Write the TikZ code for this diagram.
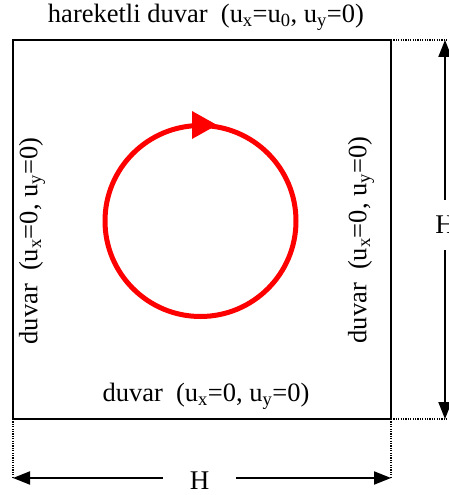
\documentclass[tikz,border=0pt]{standalone}
\usepackage{fontspec}
\setmainfont{Liberation Serif}
\usetikzlibrary{arrows.meta}
\begin{document}
\begin{tikzpicture}[x=1pt,y=-1pt,
  lbl/.style={font=\fontsize{26.5}{30}\selectfont, inner sep=0pt},
  hlbl/.style={font=\fontsize{27}{31}\selectfont, inner sep=0pt},
  wall/.style={line width=2pt},
  dim/.style={line width=2pt, -{Triangle[length=17pt,width=13pt]}},
  guide/.style={line width=1.2pt, dash pattern=on 1.2pt off 1.2pt},
  vortex/.style={draw=red, line width=5pt}]
\useasboundingbox (0,0) rectangle (448,495);
% box corners
\coordinate (tl) at (13,40);
\coordinate (tr) at (391,40);
\coordinate (bl) at (13,419);
\coordinate (br) at (391,419);
\coordinate (trx) at (448,40);
\coordinate (brx) at (448,419);
\coordinate (bly) at (13,478);
\coordinate (bry) at (391,478);
\coordinate (vt) at (445,40);
\coordinate (vb) at (445,419);
% walls
\draw[wall] (tl) rectangle (br);
% guides
\draw[guide] (tr) -- (trx);
\draw[guide] (br) -- (brx);
\draw[guide] (bl) -- (bly);
\draw[guide] (br) -- (bry);
% labels
\node[lbl] (top) at (206,17) {hareketli duvar\ \ (u\textsubscript{x}=u\textsubscript{0}, u\textsubscript{y}=0)};
\node[lbl] (bot) at (206,396) {duvar\ \ (u\textsubscript{x}=0, u\textsubscript{y}=0)};
\node[lbl, rotate=90] (left) at (32,241) {duvar\ \ (u\textsubscript{x}=0, u\textsubscript{y}=0)};
\node[lbl, rotate=90] (right) at (361,240) {duvar\ \ (u\textsubscript{x}=0, u\textsubscript{y}=0)};
% dimension H horizontal
\node[hlbl, minimum width=73pt] (hB) at (199.5,481) {H};
\draw[dim] (hB.west |- bly) -- (bly);
\draw[dim] (hB.east |- bry) -- (bry);
% dimension H vertical
\node[hlbl, minimum height=50pt] (hR) at (445,225) {H};
\draw[dim] (hR.north -| vt) -- (vt);
\draw[dim] (hR.south -| vb) -- (vb);
% vortex
\coordinate (cc) at (200.5,221);
\draw[vortex] (cc) circle (95.5);
\fill[red] (217,125) -- (192,111) -- (192,139) -- cycle;
\end{tikzpicture}
\end{document}
